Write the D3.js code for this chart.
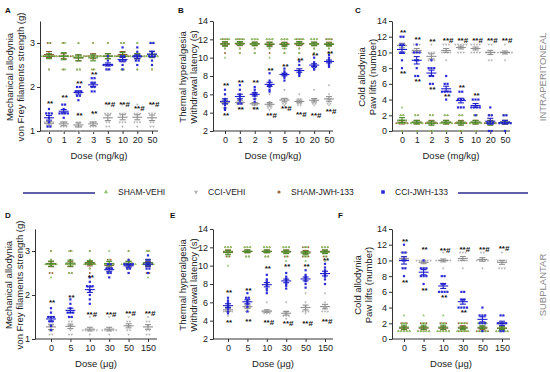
<!DOCTYPE html>
<html><head><meta charset="utf-8">
<script src="https://cdn.jsdelivr.net/npm/d3@7"></script>
<style>body{margin:0;background:#fff}svg{display:block;font-family:"Liberation Sans",Arial,sans-serif}</style>
</head><body><svg id="c" width="550" height="372"></svg>
<script>
const dosesIP = ["0","1","2","3","5","10","20","50"];
const dosesSP = ["0","5","10","30","50","150"];
const groupNames = ["SHAM-VEHI","CCI-VEHI","SHAM-JWH-133","CCI-JWH-133"];

// Panel A – mechanical allodynia, intraperitoneal (g)
const A_shamVehi = [[3,2.7,2.7,2.7,2.7,2.7,2.4,2.7],[3,2.7,2.7,2.7,2.7,2.4,2.4,3],[3,2.7,2.7,2.7,2.7,2.4,2.4,2.7],[3,2.7,2.7,2.7,2.7,2.4,2.4,2.7],[3,2.7,2.7,2.7,2.7,2.4,2.7,2.7],[3,3,2.7,2.7,2.7,2.7,2.4,2.4],[3,2.7,2.7,2.7,2.7,2.7,2.4,2.7],[3,3,2.7,2.7,2.7,2.7,2.4,2.7]];
const A_shamJwh = [[3,2.7,2.7,2.7,2.7,2.4,2.7,3],[3,2.7,2.7,2.7,2.4,2.7,2.7,2.7],[3,2.7,2.7,2.7,2.4,2.4,2.7,2.7],[3,2.7,2.7,2.7,2.4,2.7,2.7,2.7],[3,2.7,2.7,2.7,2.4,2.7,2.7,2.7],[3,2.7,2.7,2.7,2.7,2.4,2.7,3],[3,2.7,2.7,2.7,2.7,2.4,2.7,2.7],[3,2.7,2.7,2.7,2.7,2.4,2.7,3]];
const A_cciVehi = [[1.4,1.2,1.2,1.1,1.1,1.0,1.2,1.2],[1.4,1.2,1.2,1.1,1.1,1.0,1.2,1.1],[1.4,1.2,1.1,1.1,1.0,1.0,1.2,1.1],[1.4,1.2,1.1,1.1,1.0,1.2,1.2,1.1],[1.6,1.4,1.4,1.2,1.2,1.1,1.4,1.1],[1.6,1.4,1.4,1.2,1.2,1.2,1.4,1.1],[1.6,1.4,1.4,1.2,1.2,1.2,1.4,1.1],[1.6,1.4,1.4,1.2,1.2,1.1,1.4,1.1]];
const A_cciJwh = [[1.5,1.4,1.4,1.3,1.2,1.1,1.1,1.4],[1.6,1.5,1.4,1.4,1.4,1.4,1.3,1.6],[2.0,2.0,1.9,1.9,1.9,1.8,1.8,1.7],[2.2,2.2,2.1,2.0,2.0,1.9,1.9,2.1],[2.7,2.6,2.5,2.5,2.4,2.4,2.5,2.5],[2.9,2.7,2.7,2.6,2.6,2.5,2.4,2.6],[2.9,2.8,2.7,2.7,2.7,2.6,2.6,2.5],[3.0,3.0,2.8,2.7,2.7,2.6,2.5,2.7]];

// Panel B – thermal hyperalgesia, intraperitoneal (s)
const B_shamVehi = [[12,12,12,12,11.5,11,10,11.5],[12,12,12,12,11.5,11,10.5,11.5],[12,12,12,11.5,11.5,11,10.5,11.5],[12,12,12,11.5,11.5,11,10,11.5],[12,12,12,11.5,11,11,10.5,11.5],[12,12,12,12,11.5,11,10.5,11.5],[12,12,12,11.5,11.5,11,10.5,11.5],[12,12,11.5,11.5,11.5,11,10.5,11.5]];
const B_shamJwh = [[12,12,11.5,11.5,11,12,10.5,11.5],[12,12,11.5,11.5,11,12,10.5,11.5],[12,12,11.5,11.5,11,12,10.5,11.5],[12,12,11.5,11.5,11,12,10.5,11.5],[12,12,11.5,11.5,11,12,10.5,11.5],[12,12,11.5,11.5,11,12,10.5,11.5],[12,12,11.5,11.5,11,12,10.5,11.5],[12,12,11.5,11.5,11,12,10.5,11.5]];
const B_cciVehi = [[6.0,5.5,5.0,5.0,4.5,4.5,5.0,5.5],[6.0,5.5,5.0,5.0,4.5,4.5,5.0,5.5],[5.5,5.0,5.0,4.5,4.5,5.0,5.5,4.8],[6.0,5.0,4.5,4.5,5.0,4.8,5.2,4.3],[6.5,5.5,5.5,5.0,5.0,5.2,5.5,4.8],[6.0,5.5,5.0,5.0,5.2,4.8,5.5,4.8],[6.5,5.5,5.0,5.3,5.0,5.2,5.5,4.8],[7.0,6.0,5.5,5.0,5.2,5.5,5.0,4.8]];
const B_cciJwh = [[6.5,6.0,5.5,5.3,5.0,4.8,4.5,4.3],[7.0,6.5,6.0,5.8,5.5,5.3,5.0,5.0],[6.8,6.5,6.2,6.0,6.0,5.8,5.5,5.2],[8.3,7.5,7.3,7.0,6.8,6.5,6.3,7.0],[8.8,8.5,8.3,8.2,8.0,7.8,7.5,8.2],[9.6,9.2,8.5,8.3,8.2,8.0,8.4,8.6],[10.0,9.5,9.2,9.0,8.8,8.7,9.0,9.3],[10.3,10.0,9.8,9.5,9.3,9.0,9.2,9.6]];

// Panel C – cold allodynia, intraperitoneal (paw lifts)
const C_shamVehi = [[3,2,2,1,1,1,0,1],[2,2,1,1,1,1,0,1],[2,2,1,1,1,0,0,1],[2,2,1,1,1,1,0,1],[2,2,1,1,1,0,0,1],[2,2,1,1,1,1,0,1],[2,2,1,1,1,0,0,1],[2,2,1,1,1,1,0,1]];
const C_shamJwh = [[2,1,1,1,1,2,0,1],[2,1,1,1,1,2,0,1],[2,1,1,1,1,2,0,1],[2,1,1,1,1,2,0,1],[2,1,1,1,1,2,0,1],[2,1,1,1,1,2,0,1],[2,1,1,1,1,2,0,1],[2,1,1,1,1,2,0,1]];
const C_cciVehi = [[12,11,11,10,10,10,11,12],[11,11,10,10,10,9,11,10],[11,10,10,9,9,9,8,10],[11,11,10,10,10,9,10,11],[11,11,11,10,11,10,11,10],[11,11,10,10,11,10,10,11],[11,10,10,10,9,10,11,9],[11,10,10,10,9,10,10,10]];
const C_cciJwh = [[12,12,11,11,10,10,9,8],[11,10,10,10,9,9,8,7,7],[9,8,8,8,7,7,6,6],[7,6,6,5,5,5,5,4],[5,5,4,4,4,3,3,3],[4,4,4,3,3,3,3,2],[3,2,2,1,1,1,0,0],[2,2,1,1,1,1,0,1]];

// Panel D – mechanical allodynia, subplantar (g)
const D_shamVehi = [[3,2.7,2.7,2.7,2.7,2.4,2.7,2.8],[3,2.7,2.7,2.7,2.7,2.5,2.5,3],[3,2.7,2.7,2.7,2.7,2.6,2.7,2.8],[3,2.7,2.7,2.7,2.6,2.5,2.7,2.8],[3,2.7,2.7,2.7,2.7,2.6,2.7,2.7],[3,2.7,2.7,2.7,2.7,2.4,2.7,3]];
const D_shamJwh = [[3,2.7,2.7,2.5,2.7,2.5,2.7,2.8],[3,2.7,2.7,2.5,2.7,2.5,2.7,2.8],[3,2.7,2.7,2.5,2.7,2.6,2.7,2.8],[2.8,2.7,2.7,2.5,2.7,2.5,2.7,2.8],[3,2.7,2.7,2.6,2.7,2.5,2.7,2.8],[3,2.7,2.7,2.5,2.7,2.5,2.7,2.8]];
const D_cciVehi = [[1.6,1.4,1.3,1.2,1.2,1.1,1.1,1.3],[1.5,1.4,1.3,1.3,1.2,1.1,1.1,1.4],[1.5,1.2,1.2,1.2,1.2,1.2,1.1,1.2],[1.5,1.2,1.2,1.2,1.2,1.1,1.2,1.2],[1.5,1.4,1.3,1.3,1.2,1.2,1.1,1.4],[1.5,1.4,1.3,1.2,1.2,1.1,1.1,1.4]];
const D_cciJwh = [[1.7,1.5,1.5,1.5,1.4,1.4,1.3,1.2,1.6],[1.9,1.8,1.7,1.6,1.6,1.5,1.5,1.6],[2.4,2.3,2.2,2.2,2.1,2.0,1.9,1.8,2.2],[2.7,2.6,2.6,2.5,2.5,2.4,2.7,2.6],[2.8,2.7,2.7,2.7,2.6,2.6,2.5,2.7],[2.9,2.8,2.7,2.7,2.6,2.6,2.5,2.8]];

// Panel E – thermal hyperalgesia, subplantar (s)
const E_shamVehi = [[12,12,12,11.5,11.5,11,10,11.5],[12,12,12,11.5,11.5,11,11,11.5],[12,12,12,11.5,11.5,11,11,11.5],[12,12,12,11.5,11.5,11,10.5,11.5],[12,12,11.5,11.5,11,11,10.5,11.5],[12,12,12,11.5,11.5,11,10.5,11.5]];
const E_shamJwh = [[12,12,11.5,11.5,11,11.5,11,12],[12,12,11.5,11.5,11,11.5,11,12],[12,12,11.5,11.5,11,11.5,11,12],[12,12,11.5,11.5,11,11.5,11,12],[12,12,11.5,11,11,11.5,11,12],[12,12,11.5,11.5,11,11.5,11,12]];
const E_cciVehi = [[6.0,5.5,5.0,5.0,5.0,4.5,5.5,5.0],[6.5,6.0,5.5,5.5,5.0,5.0,5.5,5.2],[6.0,5.0,5.0,5.0,4.8,4.8,5.0,4.8],[6.0,5.0,4.8,4.5,4.5,4.2,5.0,4.5],[7.0,6.0,5.5,5.0,5.0,5.0,5.2,4.8],[7.0,6.0,5.5,5.5,5.0,5.0,5.3,5.0]];
const E_cciJwh = [[6.5,6.2,6.0,5.8,5.5,5.3,5.0,4.8],[7.0,6.5,6.5,6.2,6.0,5.8,5.5,5.0],[9.0,8.5,8.3,8.0,7.8,7.5,7.3,7.0],[9.2,8.8,8.6,8.5,8.3,8.0,7.8,7.5],[9.5,9.0,8.8,8.7,8.5,8.3,8.0,7.6],[10.2,9.8,9.5,9.3,9.0,8.8,8.5,8.0]];

// Panel F – cold allodynia, subplantar (paw lifts)
const F_shamVehi = [[3,2,2,1,1,1,1,1],[3,2,2,1,1,1,1,1],[3,2,2,1,1,1,1,1],[2,2,2,1,1,1,1,1],[2,2,2,1,1,1,1,2],[2,2,2,1,1,1,1,1]];
const F_shamJwh = [[2,2,1,1,1,1,1,2],[2,2,1,1,1,1,1,2],[2,2,1,1,1,1,1,2],[2,2,2,1,1,1,1,2],[2,2,1,1,1,1,1,2],[2,2,1,1,1,1,1,2]];
const F_cciVehi = [[11,11,10,10,10,9,10,11],[10,10,10,9,9,10,10,10],[11,10,10,10,10,10,9,10],[11,11,10,10,10,9,10,11],[11,11,10,10,10,9,10,10],[11,10,10,10,9,9,10,9]];
const F_cciJwh = [[12,11,11,10,10,9,9,8],[10,9,9,9,8,8,7,8],[8,8,7,7,6,6,6,6],[6,6,5,5,4,4,4,4],[4,3,3,3,2,2,2,1],[3,3,2,2,2,2,1,1]];

// significance marks [dose, value, label]
const annA = [["0",1.64,"**"],["1",1.77,"**"],["2",2.09,"**"],["2",1.36,"**"],["3",2.3,"**"],["3",1.4,"**"],["5",1.61,"**#"],["10",1.61,"**#"],["20",1.53,"**#"],["50",1.61,"**#"]];
const annB = [["0",7.0,"**"],["0",3.8,"**"],["1",7.3,"**"],["1",4.4,"**"],["2",7.3,"**"],["2",4.4,"**"],["3",8.65,"**"],["3",3.8,"**#"],["5",9.1,"**"],["5",4.5,"**#"],["10",9.8,"**"],["10",3.9,"**#"],["20",10.3,"**"],["20",3.8,"**#"],["50",10.5,"**"],["50",4.2,"**#"]];
const annC = [["0",12.6,"**"],["0",7.4,"**"],["1",11.75,"**"],["1",6.4,"**"],["2",11.4,"**"],["2",5.3,"**"],["3",11.6,"**#"],["3",4.4,"**"],["5",11.6,"**#"],["5",5.6,"**"],["10",11.6,"**#"],["10",4.6,"**"],["20",11.6,"**#"],["50",11.6,"**#"]];
const annD = [["0",1.83,"**"],["5",1.96,"**"],["10",2.42,"**"],["10",1.57,"**#"],["30",1.57,"**#"],["50",1.6,"**#"],["150",1.6,"**#"]];
const annE = [["0",7.1,"**"],["0",3.9,"**"],["5",7.4,"**"],["5",3.95,"**"],["10",9.8,"**"],["10",3.9,"**#"],["30",10.0,"**"],["30",3.7,"**#"],["50",10.0,"**"],["50",3.8,"**#"],["150",10.6,"**"],["150",4.0,"**#"]];
const annF = [["0",12.5,"**"],["0",7.2,"**"],["5",11.4,"**"],["5",6.3,"**"],["10",11.3,"**#"],["10",5.4,"**"],["30",11.4,"**#"],["30",3.4,"**"],["50",11.4,"**#"],["150",11.6,"**#"]];

const ticksMech = [1,2,3];
const ticksTherm = [2,4,6,8,10,12,14];
const ticksCold = [0,2,4,6,8,10,12,14];

const style = {
  "SHAM-VEHI":   {pt:"#8cc46a", bar:"#4a8a2a", shape:"tri"},
  "CCI-VEHI":    {pt:"#b4b4b4", bar:"#909090", shape:"tridown"},
  "SHAM-JWH-133":{pt:"#9a6a3a", bar:"#8a5a30", shape:"circle"},
  "CCI-JWH-133": {pt:"#2a2ad6", bar:"#2020c8", shape:"square"}
};

const svg = d3.select("#c");

const panels = [
  {letter:"A", lx:5, ly:13, doses:dosesIP, data:[A_shamVehi,A_cciVehi,A_shamJwh,A_cciJwh], ann:annA,
   yDom:[1,3.5], yTicks:ticksMech, ax0:40, ax1:158, p0:49, p1:152, yB:131, yT:21,
   yl:["Mechanical allodynia","von Frey filaments strength (g)"], ylx:[10,21], xl:"Dose (mg/kg)"},
  {letter:"B", lx:178, ly:13, doses:dosesIP, data:[B_shamVehi,B_cciVehi,B_shamJwh,B_cciJwh], ann:annB,
   yDom:[2,14], yTicks:ticksTherm, ax0:213, ax1:333, p0:225, p1:329, yB:131, yT:21,
   yl:["Thermal hyperalgesia","Withdrawal latency (s)"], ylx:[183,194], xl:"Dose (mg/kg)"},
  {letter:"C", lx:355, ly:13, doses:dosesIP, data:[C_shamVehi,C_cciVehi,C_shamJwh,C_cciJwh], ann:annC,
   yDom:[0,14], yTicks:ticksCold, ax0:392, ax1:510, p0:402, p1:505, yB:131, yT:21,
   yl:["Cold allodynia","Paw lifts (number)"], ylx:[362,373], xl:"Dose (mg/kg)", side:"INTRAPERITONEAL"},
  {letter:"D", lx:5, ly:218, doses:dosesSP, data:[D_shamVehi,D_cciVehi,D_shamJwh,D_cciJwh], ann:annD,
   yDom:[1,3.5], yTicks:ticksMech, ax0:35, ax1:157, p0:51, p1:148, yB:339, yT:229,
   yl:["Mechanical allodynia","von Frey filaments strength (g)"], ylx:[9,20], xl:"Dose (\u03bcg)"},
  {letter:"E", lx:170, ly:218, doses:dosesSP, data:[E_shamVehi,E_cciVehi,E_shamJwh,E_cciJwh], ann:annE,
   yDom:[2,14], yTicks:ticksTherm, ax0:213, ax1:333, p0:228, p1:325, yB:339, yT:229,
   yl:["Thermal hyperalgesia","Withdrawal latency (s)"], ylx:[183,194], xl:"Dose (\u03bcg)"},
  {letter:"F", lx:338, ly:218, doses:dosesSP, data:[F_shamVehi,F_cciVehi,F_shamJwh,F_cciJwh], ann:annF,
   yDom:[0,14], yTicks:ticksCold, ax0:392, ax1:510, p0:404, p1:502, yB:339, yT:229,
   yl:["Cold allodynia","Paw lifts (number)"], ylx:[358,369], xl:"Dose (\u03bcg)", side:"SUBPLANTAR"}
];

function marker(g, shape, x, y, color, s) {
  s = s || 1;
  if (shape === "circle") g.append("circle").attr("cx",x).attr("cy",y).attr("r",1.0*s).attr("fill",color);
  else if (shape === "square") g.append("rect").attr("x",x-1.1*s).attr("y",y-1.1*s).attr("width",2.2*s).attr("height",2.2*s).attr("fill",color);
  else {
    const sym = d3.symbol().type(d3.symbolTriangle).size(3*s*s)();
    g.append("path").attr("d",sym).attr("fill",color)
      .attr("transform",`translate(${x},${y})` + (shape==="tridown"?" rotate(180)":""));
  }
}

panels.forEach(P => {
  const g = svg.append("g");
  const y = d3.scaleLinear().domain(P.yDom).range([P.yB, P.yT]);
  const x = d3.scalePoint().domain(P.doses).range([P.p0, P.p1]);

  // axes
  const ya = g.append("g").attr("transform",`translate(${P.ax0},0)`)
    .call(d3.axisLeft(y).tickValues(P.yTicks).tickFormat(d3.format("d")).tickSize(3).tickSizeOuter(0).tickPadding(2));
  const xa = g.append("g").attr("transform",`translate(0,${P.yB})`)
    .call(d3.axisBottom(x).tickSize(3).tickSizeOuter(0).tickPadding(3));
  xa.select(".domain").remove();
  g.append("line").attr("x1",P.ax0).attr("x2",P.ax1).attr("y1",P.yB).attr("y2",P.yB).attr("stroke","#333");
  [ya, xa].forEach(a => {
    a.selectAll("text").attr("font-size",9).attr("fill","#222").attr("font-family","Liberation Sans, Arial, sans-serif");
    a.selectAll("line,path").attr("stroke","#333");
  });

  // axis titles
  const cy = (P.yB + P.yT) / 2 + 1;
  P.yl.forEach((t,i) => {
    g.append("text").attr("transform",`translate(${P.ylx[i]},${cy}) rotate(-90)`)
      .attr("text-anchor","middle").attr("dominant-baseline","middle")
      .attr("font-size",9.5).attr("fill","#222").text(t);
  });
  g.append("text").attr("x",(P.ax0+P.ax1)/2).attr("y",P.yB+28).attr("text-anchor","middle")
    .attr("font-size",9.5).attr("fill","#222").text(P.xl);
  g.append("text").attr("x",P.lx).attr("y",P.ly).attr("font-size",8).attr("font-weight","bold").attr("fill","#111").text(P.letter);
  if (P.side) g.append("text").attr("transform",`translate(543,${cy}) rotate(-90)`)
    .attr("text-anchor","middle").attr("dominant-baseline","middle")
    .attr("font-size",9.5).attr("fill","#8a8a8a").text(P.side);

  // draw order: SHAM-JWH, SHAM-VEHI, CCI-VEHI, CCI-JWH
  [2,0,1,3].forEach(gi => {
    const name = groupNames[gi], st = style[name], arr = P.data[gi];
    const gg = g.append("g");
    P.doses.forEach((d, di) => {
      const vals = arr[di];
      const cx = x(d);
      const counts = d3.rollup(vals, v => v.length, v => v);
      const seen = new Map();
      vals.forEach(v => {
        const k = counts.get(v), j = seen.get(v) || 0; seen.set(v, j+1);
        const off = (j - (k-1)/2) * 2.8;
        marker(gg, st.shape, cx + off, y(v), st.pt, 1);
      });
      const m = d3.mean(vals), se = d3.deviation(vals) / Math.sqrt(vals.length);
      const bar = gg.append("g").attr("stroke",st.bar).attr("stroke-width",1.1);
      bar.append("line").attr("x1",cx-5).attr("x2",cx+5).attr("y1",y(m)).attr("y2",y(m));
      bar.append("line").attr("x1",cx).attr("x2",cx).attr("y1",y(m-se)).attr("y2",y(m+se));
      bar.append("line").attr("x1",cx-3).attr("x2",cx+3).attr("y1",y(m-se)).attr("y2",y(m-se));
      bar.append("line").attr("x1",cx-3).attr("x2",cx+3).attr("y1",y(m+se)).attr("y2",y(m+se));
    });
  });

  // significance
  P.ann.forEach(([d, v, t]) => {
    g.append("text").attr("x", x(d) + (t.length>2?2:1)).attr("y", y(v)+3).attr("text-anchor","middle")
      .attr("font-size",8).attr("font-weight","bold").attr("fill","#111").text(t);
  });
});

// legend
const lg = svg.append("g");
const legY = 192;
lg.append("line").attr("x1",23).attr("x2",95).attr("y1",legY+1).attr("y2",legY+1).attr("stroke","#2b2b8c").attr("stroke-width",1.3);
lg.append("line").attr("x1",458).attr("x2",528).attr("y1",legY+1).attr("y2",legY+1).attr("stroke","#2b2b8c").attr("stroke-width",1.3);
const legPos = [106, 196, 279, 383];
groupNames.forEach((n,i) => {
  marker(lg, style[n].shape, legPos[i], legY, style[n].pt, 1.6);
  lg.append("text").attr("x",legPos[i]+12).attr("y",legY+3).attr("font-size",8.5).attr("fill","#222").text(n);
});
</script>
</body></html>
